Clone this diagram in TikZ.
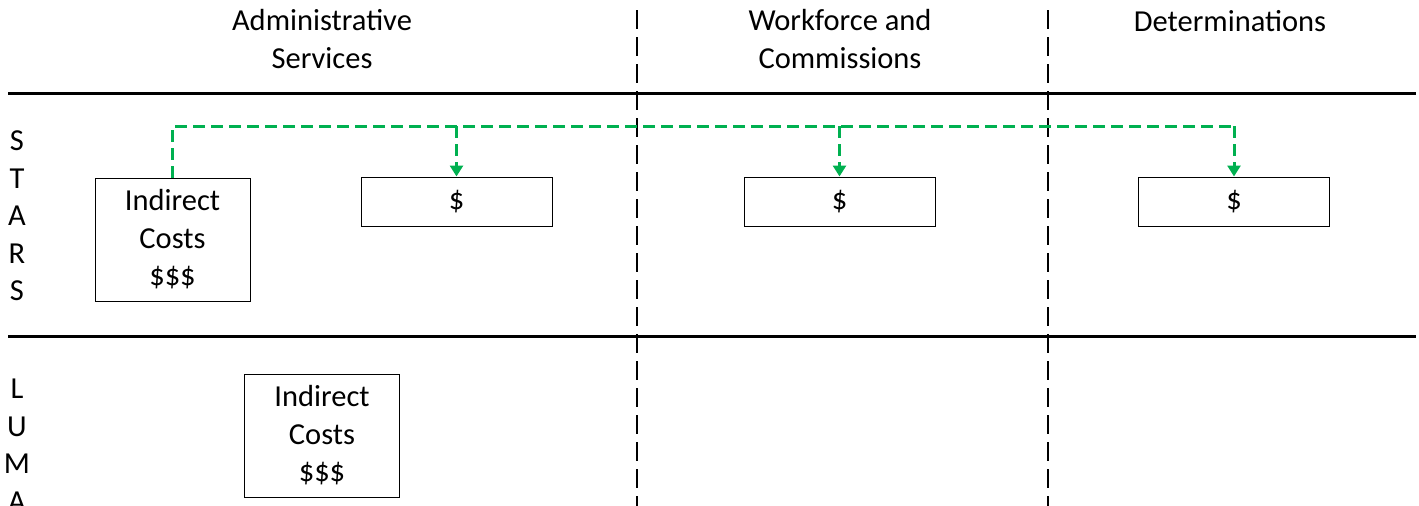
\documentclass[tikz,border=0pt]{standalone}
\usepackage{fontspec}
\setmainfont{Carlito}
\usetikzlibrary{arrows.meta}
\definecolor{grn}{HTML}{00B050}
\begin{document}
\begin{tikzpicture}[x=1pt,y=-1pt,
  txt/.style={font=\fontsize{30.5}{37.5}\selectfont, align=center, inner sep=0pt},
  box/.style={draw, line width=1pt, txt},
  bigbox/.style={box, minimum width=155pt, minimum height=123pt},
  dolbox/.style={box, minimum width=191pt, minimum height=49pt},
  rule/.style={line width=3pt},
  divider/.style={line width=2.5pt, dash pattern=on 19pt off 8pt},
  flow/.style={grn, line width=3pt, dash pattern=on 12pt off 6pt},
  flowarrow/.style={flow, -{Triangle[length=11pt,width=13pt]}}]
\useasboundingbox (0,0) rectangle (1419,506);
\clip (0,0) rectangle (1419,506);
% headers
\node[txt] (h1) at (322,39) {Administrative\\Services};
\node[txt] (h2) at (840,39) {Workforce and\\Commissions};
\node[txt] (h3) at (1230,21) {Determinations};
% rules
\coordinate (r1a) at (8,93);
\coordinate (r1b) at (1416,93);
\coordinate (r2a) at (8,336);
\coordinate (r2b) at (1416,336);
\draw[rule] (r1a) -- (r1b);
\draw[rule] (r2a) -- (r2b);
% dividers
\coordinate (v1a) at (637,10);
\coordinate (v1b) at (637,506);
\coordinate (v2a) at (1048,10);
\coordinate (v2b) at (1048,506);
\draw[divider] (v1a) -- (v1b);
\draw[divider] (v2a) -- (v2b);
% row labels
\node[txt, align=center] (stars) at (17,216) {S\\T\\A\\R\\S};
\node[txt, align=center] (luma) at (17,445) {L\\U\\M\\A};
% boxes
\node[bigbox] (ind1) at (172.5,239.5) {Indirect\\Costs\\\$\$\$};
\node[bigbox] (ind2) at (322,435.5) {Indirect\\Costs\\\$\$\$};
\node[dolbox] (d1) at (456.5,201.5) {\$};
\node[dolbox] (d2) at (839.5,201.5) {\$};
\node[dolbox] (d3) at (1234,201.5) {\$};
% green flow
\coordinate (top) at (0,126);
\draw[flow] (ind1.north) -- (ind1.north |- top) -- (d3.north |- top);
\draw[flowarrow] (d1.north |- top) -- (d1.north);
\draw[flowarrow] (d2.north |- top) -- (d2.north);
\draw[flowarrow] (d3.north |- top) -- (d3.north);
\end{tikzpicture}
\end{document}
